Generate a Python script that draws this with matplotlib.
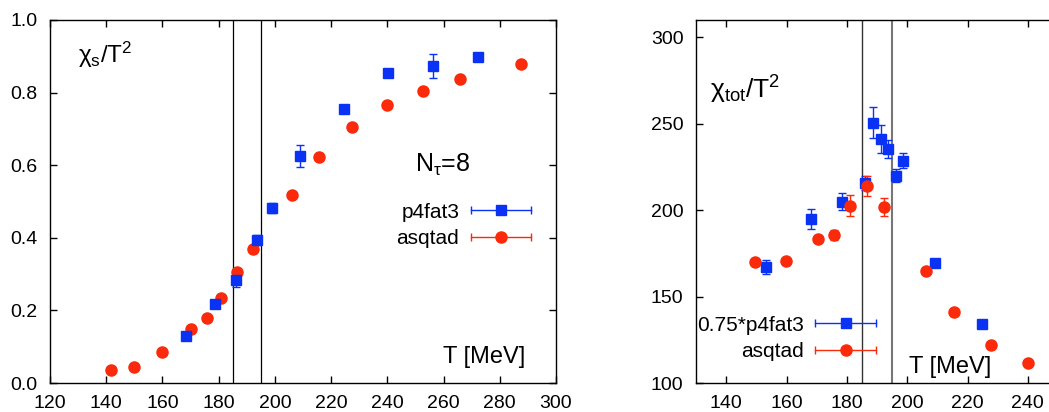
import matplotlib
matplotlib.use('Agg')
import matplotlib.pyplot as plt
from matplotlib.lines import Line2D
from matplotlib.legend_handler import HandlerBase

plt.rcParams['font.family'] = ['Liberation Sans', 'DejaVu Sans']
plt.rcParams['mathtext.fontset'] = 'custom'
plt.rcParams['mathtext.rm'] = 'Liberation Sans'
plt.rcParams['mathtext.it'] = 'Liberation Sans'

BLUE = '#0a32f5'
RED = '#fa2a0a'

# left panel: chi_s / T^2
s_asq_T = [141.6, 149.8, 160.0, 170.3, 175.7, 181.0, 186.6, 192.2, 206.1, 215.6, 227.4, 239.9, 252.6, 265.7, 287.6]
s_asq_v = [0.036, 0.045, 0.085, 0.149, 0.178, 0.235, 0.306, 0.368, 0.519, 0.622, 0.706, 0.767, 0.805, 0.837, 0.879]
s_p4_T = [168.3, 178.6, 186.1, 193.5, 199.0, 208.9, 224.5, 240.1, 256.1, 272.3]
s_p4_v = [0.129, 0.219, 0.284, 0.394, 0.482, 0.625, 0.755, 0.854, 0.873, 0.898]
s_p4_e = [0.008, 0.010, 0.020, 0.015, 0.015, 0.030, 0.008, 0.010, 0.033, 0.008]

# right panel: chi_tot / T^2
t_asq_T = [149.6, 159.7, 170.3, 175.6, 181.1, 186.7, 192.3, 206.1, 215.6, 227.7, 240.1]
t_asq_v = [170.2, 170.8, 183.3, 185.8, 202.6, 214.0, 201.9, 164.8, 141.1, 122.0, 111.6]
t_asq_e = [1.0, 1.0, 1.0, 3.0, 6.0, 6.0, 5.0, 1.0, 1.0, 1.0, 1.0]
t_p4_T = [153.3, 168.2, 178.4, 186.0, 188.6, 191.2, 193.7, 196.2, 198.7, 209.1, 224.7]
t_p4_v = [167.1, 194.9, 204.9, 215.7, 250.5, 241.2, 235.4, 220.0, 228.6, 169.4, 134.0]
t_p4_e = [4.0, 6.0, 5.0, 4.0, 9.0, 8.0, 5.0, 4.0, 4.5, 1.0, 1.0]

Tc_band = [185, 195]


class ErrHandler(HandlerBase):
    def create_artists(self, legend, orig, xd, yd, w, h, fontsize, trans):
        y = h / 2 - yd
        c = orig.get_color()
        line = Line2D([-xd, w - xd], [y, y], color=c, lw=1)
        caps = Line2D([-xd, w - xd], [y, y], ls='', marker='|', ms=6, mew=1, color=c)
        mk = Line2D([w / 2 - xd], [y], ls='', marker=orig.get_marker(),
                    ms=orig.get_markersize(), color=c)
        arts = [line, caps, mk]
        for a in arts:
            a.set_transform(trans)
        return arts


def style_axes(ax):
    ax.tick_params(direction='in', top=True, right=True, length=5, width=1,
                   labelsize=14, pad=9)
    for sp in ax.spines.values():
        sp.set_linewidth(1)


fig = plt.figure(figsize=(10.49, 4.12), dpi=100)

# ---- left
ax1 = fig.add_axes([50 / 1049, 29 / 412, 506 / 1049, 363 / 412])
for t in Tc_band:
    ax1.axvline(t, color='k', lw=0.9, zorder=1)
ax1.errorbar(s_p4_T, s_p4_v, yerr=s_p4_e, fmt='s', ms=7.5, color=BLUE, ecolor=BLUE,
             elinewidth=1, capsize=3, zorder=3)
ax1.plot(s_asq_T, s_asq_v, 'o', ms=8, color=RED, zorder=3)
ax1.set_xlim(120, 300)
ax1.set_ylim(0, 1.0)
ax1.set_xticks(range(120, 301, 20))
ax1.set_yticks([0, 0.2, 0.4, 0.6, 0.8, 1.0])
ax1.set_yticklabels(['0.0', '0.2', '0.4', '0.6', '0.8', '1.0'])
style_axes(ax1)
ax1.text(0.055, 0.882, r'χ$_{\rm s}$/T$^{\rm 2}$', transform=ax1.transAxes, fontsize=17.5)
ax1.text(0.722, 0.582, r'N$_{\rm τ}$=8', transform=ax1.transAxes, fontsize=18)
ax1.text(0.777, 0.056, 'T [MeV]', transform=ax1.transAxes, fontsize=17)
h1 = [Line2D([], [], color=BLUE, marker='s', ms=7.5), Line2D([], [], color=RED, marker='o', ms=8)]
ax1.legend(h1, ['p4fat3', 'asqtad'], loc='upper right', bbox_to_anchor=(0.951, 0.497),
           frameon=False, markerfirst=False, fontsize=15, handlelength=2.9,
           handletextpad=0.55, labelspacing=0.37, borderpad=0, borderaxespad=0,
           handler_map={Line2D: ErrHandler()})

# ---- right
ax2 = fig.add_axes([696 / 1049, 29 / 412, 362 / 1049, 363 / 412])
ax2.axvline(Tc_band[0], color='#333333', lw=1.0, zorder=1)
ax2.axvline(Tc_band[1], color='#777777', lw=1.5, zorder=1)
ax2.errorbar(t_p4_T, t_p4_v, yerr=t_p4_e, fmt='s', ms=7.5, color=BLUE, ecolor=BLUE,
             elinewidth=1, capsize=3, zorder=3)
ax2.errorbar(t_asq_T, t_asq_v, yerr=t_asq_e, fmt='o', ms=8, color=RED, ecolor=RED,
             elinewidth=1, capsize=3, zorder=3)
ax2.set_xlim(130, 250)
ax2.set_ylim(100, 310)
ax2.set_xticks(range(140, 241, 20))
ax2.set_yticks(range(100, 301, 50))
style_axes(ax2)
ax2.text(0.040, 0.783, r'χ$_{\rm tot}$/T$^{\rm 2}$', transform=ax2.transAxes, fontsize=19)
ax2.text(0.588, 0.028, 'T [MeV]', transform=ax2.transAxes, fontsize=17)
h2 = [Line2D([], [], color=BLUE, marker='s', ms=7.5), Line2D([], [], color=RED, marker='o', ms=8)]
ax2.legend(h2, ['0.75*p4fat3', 'asqtad'], loc='lower right', bbox_to_anchor=(0.497, 0.06),
           frameon=False, markerfirst=False, fontsize=15, handlelength=2.9,
           handletextpad=0.55, labelspacing=0.37, borderpad=0, borderaxespad=0,
           handler_map={Line2D: ErrHandler()})

fig.savefig('out.png', dpi=100)
